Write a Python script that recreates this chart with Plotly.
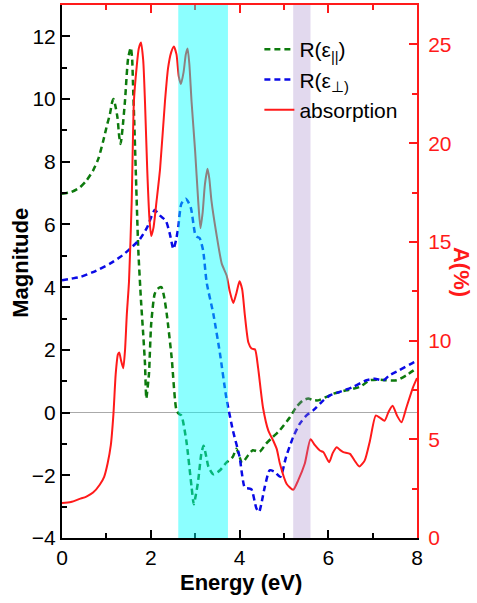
import plotly.graph_objects as go

# ---- data ----
abs_x = [0.0, 0.2, 0.4, 0.55, 0.7, 0.85, 0.95, 1.03, 1.1, 1.16, 1.21, 1.26, 1.29, 1.33, 1.38,
         1.42, 1.46, 1.51, 1.57, 1.62, 1.68, 1.73, 1.78, 1.83, 1.87, 1.92, 1.97, 2.01, 2.06,
         2.13, 2.21, 2.32, 2.39, 2.46, 2.52, 2.58, 2.63, 2.68, 2.74, 2.79, 2.83, 2.87, 2.92,
         3.0, 3.07, 3.12, 3.17, 3.22, 3.28, 3.32, 3.37, 3.48, 3.6, 3.71, 3.78, 3.86, 3.93,
         4.0, 4.06, 4.12, 4.2, 4.27, 4.35, 4.42, 4.53, 4.65, 4.76, 4.84, 4.91, 5.06, 5.21,
         5.32, 5.47, 5.6, 5.7, 5.81, 5.89, 6.02, 6.1, 6.19, 6.27, 6.34, 6.49, 6.6, 6.7,
         6.82, 6.94, 7.07, 7.16, 7.27, 7.36, 7.45, 7.55, 7.65, 7.76, 7.91, 8.0]
abs_y = [1.77, 1.82, 1.98, 2.1, 2.3, 2.7, 3.1, 3.8, 4.7, 6.3, 8.3, 9.3, 9.4, 9.0, 8.6,
         9.5, 11.3, 13.0, 17.0, 22.1, 23.8, 24.8, 25.1, 24.2, 22.1, 18.7, 16.2, 15.3, 15.7,
         17.05, 18.7, 22.1, 23.8, 24.6, 24.9, 24.5, 23.4, 23.0, 23.6, 24.5, 24.8, 24.0, 22.1,
         19.6, 17.05, 15.7, 16.5, 17.9, 18.7, 18.2, 17.05, 15.4, 13.9, 13.3, 12.5, 11.9, 12.4,
         13.0, 12.6, 11.3, 9.9, 9.6, 9.55, 8.6, 6.6, 5.44, 4.93, 4.5, 3.77, 2.75, 2.44,
         2.91, 3.76, 5.0, 4.7, 4.43, 4.35, 3.84, 4.3, 4.6, 4.45, 4.35, 4.26, 3.9, 3.62,
         3.92, 4.93, 6.2, 6.1, 5.94, 6.4, 6.7, 6.2, 5.86, 6.6, 7.63, 8.1]

par_x = [0.0, 0.2, 0.4, 0.55, 0.7, 0.82, 0.93, 1.02, 1.08, 1.13, 1.16, 1.2, 1.25, 1.29, 1.32,
         1.36, 1.42, 1.49, 1.55, 1.58, 1.6, 1.63, 1.66, 1.72, 1.78, 1.83, 1.87, 1.9, 1.93,
         1.96, 2.01, 2.09, 2.16, 2.24, 2.3, 2.36, 2.47, 2.58, 2.64, 2.69, 2.8, 2.92, 2.97,
         3.02, 3.07, 3.14, 3.19, 3.25, 3.3, 3.41, 3.56, 3.7, 3.85, 3.93, 4.06, 4.2, 4.3,
         4.45, 4.6, 4.75, 4.91, 5.14, 5.28, 5.43, 5.55, 5.65, 5.77, 5.96, 6.11, 6.41, 6.71,
         6.94, 7.16, 7.3, 7.54, 7.76, 8.0]
par_y = [6.98, 7.03, 7.18, 7.4, 7.72, 8.1, 8.67, 9.2, 9.52, 9.9, 10.0, 9.8, 9.41, 8.8, 8.57,
         9.0, 9.95, 11.3, 11.64, 11.3, 10.48, 9.2, 7.82, 5.17, 3.58, 2.5, 1.56, 0.45, 0.8,
         1.24, 2.83, 3.79, 3.95, 4.0, 3.7, 3.15, 1.77, 0.07, -0.05, -0.09, -0.88, -2.37, -2.92,
         -2.6, -2.16, -1.31, -1.06, -1.4, -1.73, -1.97, -1.84, -1.6, -1.41, -1.15, -1.6, -1.35, -1.2,
         -1.25, -0.99, -0.78, -0.56, -0.14, 0.18, 0.39, 0.45, 0.4, 0.39, 0.5, 0.6, 0.71, 0.82,
         1.03, 1.05, 1.03, 1.03, 1.19, 1.42]

perp_x = [0.0, 0.2, 0.4, 0.7, 1.08, 1.31, 1.53, 1.76, 1.92, 2.0, 2.09, 2.15, 2.21, 2.34, 2.43,
          2.51, 2.57, 2.62, 2.69, 2.79, 2.9, 3.0, 3.05, 3.1, 3.18, 3.26, 3.41, 3.56, 3.7,
          3.85, 4.0, 4.12, 4.2, 4.27, 4.38, 4.44, 4.57, 4.68, 4.79, 4.92, 5.05, 5.21, 5.36,
          5.51, 5.66, 5.89, 6.04, 6.26, 6.56, 6.86, 7.05, 7.24, 7.38, 7.6, 7.94, 8.0]
perp_y = [4.22, 4.27, 4.32, 4.48, 4.75, 4.96, 5.22, 5.54, 5.91, 6.2, 6.46, 6.38, 6.28, 6.12, 5.7,
          5.22, 5.5, 5.91, 6.66, 6.82, 6.55, 5.7, 5.6, 5.57, 5.17, 4.15, 3.15, 1.88, 0.5,
          -0.56, -1.4, -2.4, -2.42, -2.45, -3.05, -3.17, -2.37, -1.84, -1.89, -2.05, -1.41, -0.78, -0.35,
          -0.09, 0.07, 0.39, 0.55, 0.66, 0.82, 1.03, 1.08, 1.03, 1.19, 1.35, 1.61, 1.65]

names = ["R(ε<sub>||</sub>)", "R(ε<sub>⊥)</sub>", "absorption"]
x_ticks = [0, 2, 4, 6, 8]
left_ticks = [-4, -2, 0, 2, 4, 6, 8, 10, 12]
right_ticks = [0, 5, 10, 15, 20, 25]
bands = [(2.62, 3.74), (5.21, 5.60)]

FONT = "Arial, Liberation Sans, sans-serif"
RED = "#ff1a1a"

fig = go.Figure()
fig.add_trace(go.Scatter(x=par_x, y=par_y, name=names[0], mode="lines",
                         line=dict(color="#0d7a0d", width=2.5, dash="6px,4px", shape="spline", smoothing=0.6)))
fig.add_trace(go.Scatter(x=perp_x, y=perp_y, name=names[1], mode="lines",
                         line=dict(color="#0a0ae6", width=2.5, dash="6px,4px", shape="spline", smoothing=0.6)))
fig.add_trace(go.Scatter(x=abs_x, y=abs_y, name=names[2], mode="lines", yaxis="y2",
                         line=dict(color=RED, width=2, shape="spline", smoothing=0.6)))
# dummy trace to anchor the top axis
fig.add_trace(go.Scatter(x=[0], y=[0], xaxis="x2", mode="markers", marker=dict(opacity=0),
                         showlegend=False, hoverinfo="skip"))

fig.add_shape(type="rect", xref="x", yref="paper", x0=bands[0][0], x1=bands[0][1], y0=0, y1=1,
              fillcolor="rgb(0,255,255)", opacity=0.45, line_width=0, layer="above")
fig.add_shape(type="rect", xref="x", yref="paper", x0=bands[1][0], x1=bands[1][1], y0=0, y1=1,
              fillcolor="rgb(160,130,200)", opacity=0.3, line_width=0, layer="above")

tick_common = dict(ticks="inside", ticklen=8, tickwidth=2, showline=True, linewidth=2,
                   showgrid=False)

fig.update_layout(
    width=477, height=603,
    margin=dict(l=62, r=60, t=5, b=65),
    paper_bgcolor="white", plot_bgcolor="white",
    font=dict(family=FONT, size=21, color="black"),
    showlegend=True,
    legend=dict(x=0.556, y=0.955, xanchor="left", yanchor="top", bgcolor="rgba(0,0,0,0)",
                font=dict(size=21, family=FONT), tracegroupgap=0),
    xaxis=dict(range=[0, 8], tickvals=x_ticks, linecolor="black", tickcolor="black",
               tickfont=dict(size=21, color="black"), zeroline=False,
               minor=dict(dtick=1, ticks="inside", ticklen=5, tickwidth=2, tickcolor="black"),
               **tick_common),
    xaxis2=dict(range=[0, 8], overlaying="x", side="top", tickvals=x_ticks, showticklabels=False,
                linecolor=RED, tickcolor=RED, zeroline=False,
                minor=dict(dtick=1, ticks="inside", ticklen=5, tickwidth=2, tickcolor=RED),
                **tick_common),
    yaxis=dict(range=[-4, 13], tickvals=left_ticks, linecolor="black", tickcolor="black",
               tickfont=dict(size=21, color="black"),
               zeroline=True, zerolinecolor="#aaaaaa", zerolinewidth=1,
               minor=dict(dtick=1, ticks="inside", ticklen=5, tickwidth=2, tickcolor="black"),
               **tick_common),
    yaxis2=dict(range=[0, 27], overlaying="y", side="right", tickvals=right_ticks,
                linecolor=RED, tickcolor=RED, tickfont=dict(size=21, color=RED), zeroline=False,
                ticklabelstandoff=5,
                minor=dict(dtick=2.5, ticks="inside", ticklen=5, tickwidth=2, tickcolor=RED),
                **tick_common),
    annotations=[
        dict(text="<b>Magnitude</b>", xref="paper", yref="paper", x=-0.116, y=0.516,
             xanchor="center", yanchor="middle",
             textangle=-90, showarrow=False, font=dict(size=22, color="black", family=FONT)),
        dict(text="<b>Energy (eV)</b>", xref="paper", yref="paper", x=0.504, y=-0.0844,
             xanchor="center", yanchor="middle",
             showarrow=False, font=dict(size=22, color="black", family=FONT)),
        dict(text="<b>A(%)</b>", xref="paper", yref="paper", x=1.127, y=0.499,
             xanchor="center", yanchor="middle",
             textangle=90, showarrow=False, font=dict(size=22, color=RED, family=FONT)),
    ],
)

fig.write_html("out.html", config={"displayModeBar": False},
               post_script="document.body.style.margin='0';document.body.style.overflow='hidden';")
